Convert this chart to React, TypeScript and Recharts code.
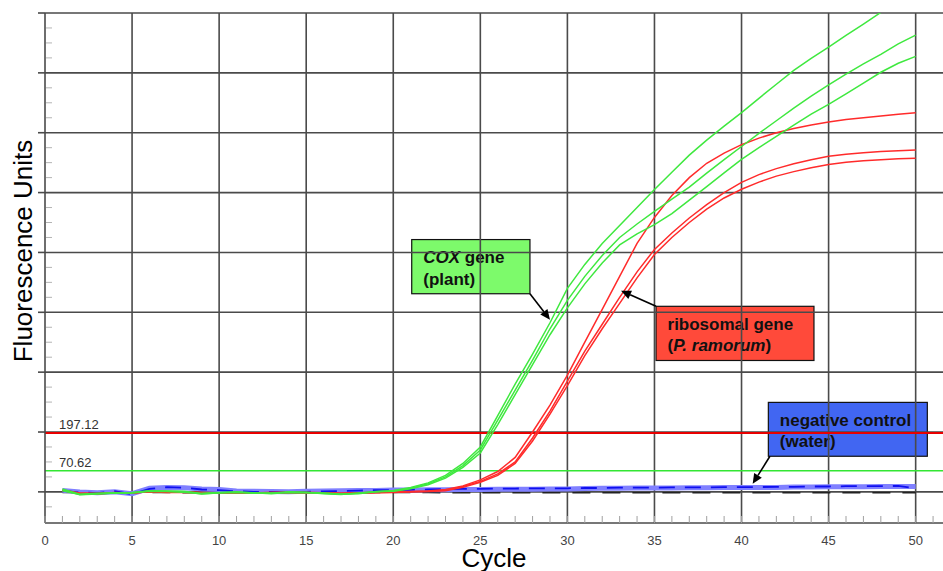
import React from 'react';
import { LineChart, Line, XAxis, YAxis, ReferenceLine, ReferenceArea } from 'recharts';

// qPCR amplification curves, one reading per cycle
const cycles = [
  1, 2, 3, 4, 5, 6, 7, 8, 9, 10, 11, 12, 13, 14, 15, 16, 17, 18, 19, 20, 21, 22, 23, 24, 25,
  26, 27, 28, 29, 30, 31, 32, 33, 34, 35, 36, 37, 38, 39, 40, 41, 42, 43, 44, 45, 46, 47, 48, 49, 50,
];

// COX gene (plant) – green
const cox1 = [
  10, -8, -5, -3, -2, 4, 3, 2, -5, -2, 0, -4, -5, 0, -1, -6, -9, -4, 0,
  5, 15, 30, 55, 95, 150, 255, 360, 460, 565, 680, 760, 830, 890, 950, 1010, 1068, 1125, 1175, 1222,
  1267, 1315, 1362, 1408, 1448, 1486, 1525, 1563, 1602, 1638, 1665,
];
const cox2 = [
  6, -10, -7, -4, -3, 3, 2, 0, -7, -3, -1, -3, -6, -1, -2, -5, -8, -5, 1,
  3, 12, 27, 50, 88, 140, 240, 340, 440, 545, 640, 720, 790, 850, 895, 937, 978, 1018, 1065, 1110,
  1154, 1198, 1240, 1282, 1322, 1360, 1396, 1430, 1462, 1497, 1526,
];
const cox3 = [
  4, -9, -6, -5, -4, 2, 1, -1, -6, -4, -2, -5, -4, -2, -3, -4, -7, -6, 0,
  2, 10, 24, 46, 82, 130, 225, 325, 425, 525, 615, 695, 765, 825, 862, 893, 930, 975, 1020, 1066,
  1111, 1150, 1188, 1225, 1262, 1295, 1330, 1366, 1402, 1432, 1455,
];

// ribosomal gene (P. ramorum) – red
const ribo1 = [
  6, -4, -6, -2, -4, 2, 0, 0, -2, -3, -4, -4, -2, -1, -2, -3, -5, -3, -1, 0, 1, 3,
  8, 20, 40, 68, 115, 200, 290, 390, 500, 610, 720, 830, 917, 990, 1050, 1098, 1132,
  1160, 1182, 1200, 1214, 1226, 1236, 1244, 1250, 1256, 1262, 1267,
];
const ribo2 = [
  4, -5, -5, -3, -5, 1, -1, -1, -3, -4, -5, -3, -2, -2, -3, -4, -6, -4, -2, -1, 0, 2,
  5, 18, 35, 60, 100, 180, 270, 370, 470, 560, 650, 735, 810, 865, 915, 960, 1000,
  1034, 1060, 1080, 1096, 1110, 1121, 1128, 1133, 1137, 1140, 1142,
];
const ribo3 = [
  5, -6, -7, -3, -4, 0, -2, -2, -4, -5, -4, -4, -3, -3, -2, -3, -5, -4, -3, -2, 0, 1,
  4, 15, 32, 55, 95, 170, 260, 355, 455, 545, 630, 715, 793, 850, 900, 945, 982,
  1011, 1035, 1055, 1070, 1083, 1094, 1101, 1106, 1110, 1113, 1115,
];

// negative control (water) – blue
const water1 = [
  5, 0, -3, 0, -6, 12, 15, 14, 10, 8, 3, 2, 1, 0, 2, 3, 4, 5, 5, 6,
  6, 7, 7, 8, 8, 9, 9, 9, 10, 10, 11, 12, 12, 13, 13, 13, 14, 14, 15, 15,
  15, 15, 16, 16, 17, 17, 17, 18, 18, 18,
];
const water2 = [
  3, -2, -4, 2, -8, 10, 16, 14, 8, 6, 2, 0, 0, -2, 0, 2, 3, 4, 6, 6,
  7, 8, 9, 10, 10, 11, 11, 12, 12, 12, 13, 13, 14, 14, 14, 15, 15, 15, 16, 16,
  16, 17, 17, 18, 18, 19, 19, 19, 20, 12,
];
const water3 = [
  -2, -2, -3, -2, -2, -2, -2, -3, -2, -2, -2, -2, -3, -2, -2, -2, -2, -3, -2, -2,
  -2, -2, -3, -3, -3, -3, -3, -3, -3, -3, -3, -3, -3, -3, -3, -3, -3, -3, -3, -3,
  -3, -3, -3, -3, -3, -3, -3, -3, -3, -3,
];

const thresholds = [197.12, 70.62];
const xTicks = [
  0, 1, 2, 3, 4, 5, 6, 7, 8, 9, 10, 11, 12, 13, 14, 15, 16, 17, 18, 19, 20, 21, 22, 23, 24, 25,
  26, 27, 28, 29, 30, 31, 32, 33, 34, 35, 36, 37, 38, 39, 40, 41, 42, 43, 44, 45, 46, 47, 48, 49, 50, 51,
];
const yTicks = [
  -50, 0, 50, 100, 150, 200, 250, 300, 350, 400, 450, 500, 550, 600, 650, 700, 750, 800,
  850, 900, 950, 1000, 1050, 1100, 1150, 1200, 1250, 1300, 1350, 1400, 1450, 1500, 1550, 1600,
];
const gridCycles = [5, 10, 15, 20, 25, 30, 35, 40, 45, 50];
const gridUnits = [0, 200, 400, 600, 800, 1000, 1200, 1400, 1600];

const data = cycles.map((c, i) => ({
  cycle: c,
  cox1: cox1[i], cox2: cox2[i], cox3: cox3[i],
  ribo1: ribo1[i], ribo2: ribo2[i], ribo3: ribo3[i],
  water1: water1[i], water2: water2[i], water3: water3[i],
}));

const FONT = '"Liberation Sans", Arial, Helvetica, sans-serif';
const GRID = '#4a4a4a';
const GREEN = '#3fe83f';
const RED = '#ff2b2b';

const XTick = (props: any) => {
  const { x, y, payload } = props;
  const major = payload.value % 5 === 0;
  return (
    <g>
      <line x1={x} x2={x} y1={y} y2={y - 7} stroke="#a0a0a0" strokeWidth={1} />
      {major && (
        <text x={x} y={y + 22} textAnchor="middle" fontSize={13} fill="#444" fontFamily={FONT}>
          {payload.value}
        </text>
      )}
    </g>
  );
};

const YTick = (props: any) => {
  const { x, y, payload } = props;
  if (payload.value % 200 === 0) {
    return <line x1={x - 7} x2={x} y1={y} y2={y} stroke={GRID} strokeWidth={1.6} />;
  }
  return <line x1={x + 1} x2={x + 7} y1={y} y2={y} stroke="#b4b4b4" strokeWidth={1} />;
};

// callout boxes and arrows, placed in data coordinates
const callouts = [
  {
    box: { x1: 21.06, x2: 27.85, y1: 662, y2: 843 },
    from: { x: 27.85, y: 662 }, to: { x: 29.0, y: 575 },
    fill: '#7dfa6b',
    lines: [[{ t: 'COX', i: true }, { t: ' gene' }], [{ t: '(plant)' }]],
  },
  {
    box: { x1: 35.09, x2: 44.16, y1: 439, y2: 620 },
    from: { x: 35.09, y: 620 }, to: { x: 33.08, y: 672 },
    fill: '#ff4a3a',
    lines: [[{ t: 'ribosomal gene' }], [{ t: '(' }, { t: 'P. ramorum', i: true }, { t: ')' }]],
  },
  {
    box: { x1: 41.54, x2: 50.67, y1: 119, y2: 299 },
    from: { x: 41.63, y: 119 }, to: { x: 40.64, y: 27 },
    fill: '#4166f2',
    lines: [[{ t: 'negative control' }], [{ t: '(water)' }]],
  },
];

const Arrow = (props: any) => {
  const { x1, y1, x2, y2 } = props;
  const a = Math.atan2(y2 - y1, x2 - x1);
  const len = 10;
  const w = 4.5;
  const bx = x2 - len * Math.cos(a);
  const by = y2 - len * Math.sin(a);
  const px = -Math.sin(a) * w;
  const py = Math.cos(a) * w;
  return (
    <g>
      <line x1={x1} y1={y1} x2={bx} y2={by} stroke="#000" strokeWidth={1.6} />
      <polygon points={`${x2},${y2} ${bx + px},${by + py} ${bx - px},${by - py}`} fill="#000" />
    </g>
  );
};

const makeBox = (fill: string, lines: any[]) => (props: any) => {
  const { x, y, width, height } = props;
  return (
    <g>
      <rect x={x} y={y} width={width} height={height} fill={fill} stroke="#111" strokeWidth={1.2} />
      {lines.map((ln: any[], li: number) => (
        <text key={li} x={x + 11.5} y={y + 23.5 + li * 21.5} fontSize={17} fontWeight="bold" fill="#111" fontFamily={FONT}>
          {ln.map((s: any, si: number) => (
            <tspan key={si} fontStyle={s.i ? 'italic' : 'normal'}>{s.t}</tspan>
          ))}
        </text>
      ))}
    </g>
  );
};

export default function App() {
  return (
    <div style={{ width: 943, height: 571, background: '#fff', fontFamily: FONT }}>
      <style>{'body{margin:0;background:#fff}'}</style>
      <LineChart width={943} height={571} data={data} margin={{ top: 13, right: 0, bottom: 18, left: 0 }}>
        <XAxis
          dataKey="cycle"
          type="number"
          domain={[0, 51.57]}
          allowDataOverflow
          ticks={xTicks}
          interval={0}
          tickSize={0}
          tickMargin={0}
          tickLine={false}
          tick={<XTick />}
          height={30}
          axisLine={{ stroke: GRID, strokeWidth: 1.6 }}
          label={(p: any) => (
            <text
              x={p.viewBox.x + p.viewBox.width / 2}
              y={p.viewBox.y + 44}
              textAnchor="middle"
              fontSize={26}
              fill="#000"
              fontFamily={FONT}
            >
              Cycle
            </text>
          )}
        />
        <YAxis
          type="number"
          domain={[-104, 1600]}
          allowDataOverflow
          ticks={yTicks}
          interval={0}
          tickSize={0}
          tickMargin={0}
          tickLine={false}
          tick={<YTick />}
          width={45}
          axisLine={{ stroke: GRID, strokeWidth: 1.6 }}
          label={(p: any) => {
            const cx = p.viewBox.x + 32;
            const cy = p.viewBox.y + p.viewBox.height / 2 - 17;
            return (
              <text
                x={cx}
                y={cy}
                transform={`rotate(-90 ${cx} ${cy})`}
                textAnchor="middle"
                fontSize={26}
                fill="#000"
                fontFamily={FONT}
              >
                Fluorescence Units
              </text>
            );
          }}
        />

        {gridCycles.map((c) => (
          <ReferenceLine key={'gx' + c} x={c} stroke={GRID} strokeWidth={1.6} />
        ))}
        {gridUnits.map((v) => (
          <ReferenceLine key={'gy' + v} y={v} stroke={GRID} strokeWidth={1.6} />
        ))}

        {thresholds.map((v, i) => (
          <ReferenceLine
            key={'th' + v}
            y={v}
            stroke={i === 0 ? '#e80000' : '#33e633'}
            strokeWidth={i === 0 ? 2 : 1.4}
            label={(p: any) => (
              <text x={p.viewBox.x + 14} y={p.viewBox.y - 4} fontSize={13} fill="#333" fontFamily={FONT}>
                {v.toFixed(2)}
              </text>
            )}
          />
        ))}

        <Line dataKey="water3" type="linear" stroke="#222" strokeWidth={1.6} strokeDasharray="18 12" dot={false} isAnimationActive={false} />
        <Line dataKey="water1" type="linear" stroke="#8080ff" strokeWidth={5} dot={false} isAnimationActive={false} />
        <Line dataKey="water2" type="linear" stroke="#1010f0" strokeWidth={1.8} strokeDasharray="16 10" dot={false} isAnimationActive={false} />

        <Line dataKey="ribo3" type="linear" stroke={RED} strokeWidth={1.5} dot={false} isAnimationActive={false} />
        <Line dataKey="ribo2" type="linear" stroke={RED} strokeWidth={1.5} dot={false} isAnimationActive={false} />
        <Line dataKey="ribo1" type="linear" stroke={RED} strokeWidth={1.5} dot={false} isAnimationActive={false} />
        <Line dataKey="cox3" type="linear" stroke={GREEN} strokeWidth={1.5} dot={false} isAnimationActive={false} />
        <Line dataKey="cox2" type="linear" stroke={GREEN} strokeWidth={1.5} dot={false} isAnimationActive={false} />
        <Line dataKey="cox1" type="linear" stroke={GREEN} strokeWidth={1.5} dot={false} isAnimationActive={false} />

        {callouts.map((c, i) => (
          <ReferenceArea
            key={'box' + i}
            x1={c.box.x1}
            x2={c.box.x2}
            y1={c.box.y1}
            y2={c.box.y2}
            shape={makeBox(c.fill, c.lines)}
          />
        ))}
        {callouts.map((c, i) => (
          <ReferenceLine key={'arr' + i} segment={[c.from, c.to]} shape={<Arrow />} />
        ))}
      </LineChart>
    </div>
  );
}
